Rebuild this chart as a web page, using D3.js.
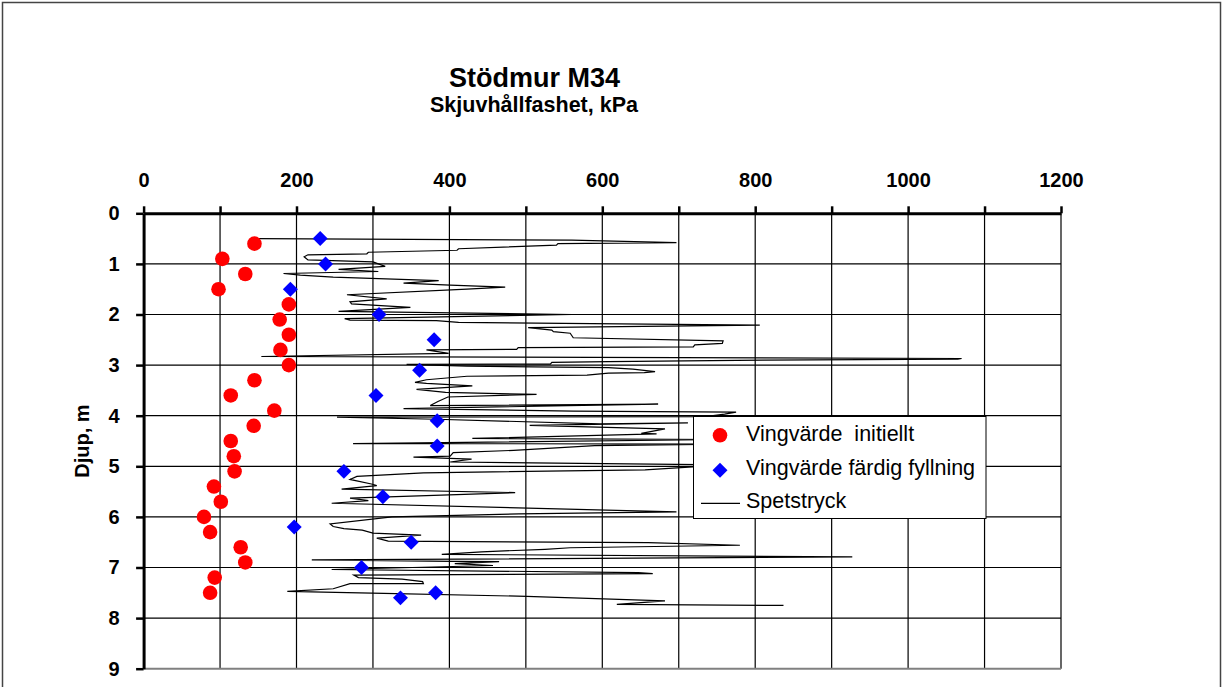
<!DOCTYPE html>
<html>
<head>
<meta charset="utf-8">
<script src="https://cdn.jsdelivr.net/npm/d3@7"></script>
<style>
  body { margin: 0; background: #fff; }
  svg { display: block; font-family: "Liberation Sans", Arial, sans-serif; }
</style>
</head>
<body>
<script>
// axis ticks
var kpaTicks = [0, 100, 200, 300, 400, 500, 600, 700, 800, 900, 1000, 1100, 1200];
var depthTicks = [0, 1, 2, 3, 4, 5, 6, 7, 8, 9];

// Vingvärde initiellt (red circles)
var initDepth = [0.6, 0.9, 1.2, 1.5, 1.8, 2.1, 2.4, 2.7, 3.0, 3.3, 3.6, 3.9,
  4.2, 4.5, 4.8, 5.1, 5.4, 5.7, 6.0, 6.3, 6.6, 6.9, 7.2, 7.5];
var initKpa = [145, 103, 133, 98, 190, 178, 190, 179, 190, 145, 114, 171,
  144, 114, 118, 119, 92, 101, 79, 87, 127, 133, 93, 87];

// Vingvärde färdig fyllning (blue diamonds)
var fyllDepth = [0.5, 1.0, 1.5, 2.0, 2.5, 3.1, 3.6, 4.1, 4.6, 5.1, 5.6, 6.2, 6.5, 7.0, 7.5, 7.6];
var fyllKpa = [231, 238, 192, 308, 380, 361, 304, 384, 384, 262, 313, 197, 350, 285, 382, 336];

// Spetstryck (line)
var spetsDepth = [0.50, 0.53, 0.58, 0.60, 0.63, 0.70, 0.73, 0.77, 0.80, 0.82, 0.86, 0.92,
  0.96, 1.05, 1.11, 1.15, 1.19, 1.22, 1.26, 1.33, 1.38, 1.42, 1.46, 1.50,
  1.61, 1.69, 1.75, 1.79, 1.86, 1.94, 2.00, 2.08, 2.11, 2.12, 2.155, 2.21,
  2.26, 2.31, 2.34, 2.37, 2.46, 2.52, 2.57, 2.60, 2.64, 2.655, 2.69, 2.70,
  2.77, 2.83, 2.87, 2.88, 2.90, 2.93, 2.945, 2.98, 2.985, 3.02, 3.05, 3.08,
  3.13, 3.15, 3.16, 3.20, 3.22, 3.29, 3.34, 3.36, 3.41, 3.48, 3.54, 3.58,
  3.63, 3.72, 3.80, 3.77, 3.86, 3.91, 3.93, 3.97, 4.02, 4.03, 4.07, 4.16,
  4.14, 4.19, 4.26, 4.35, 4.36, 4.45, 4.47, 4.55, 4.56, 4.59, 4.685, 4.73,
  4.80, 4.82, 4.86, 4.915, 4.97, 5.07, 5.13, 5.20, 5.26, 5.35, 5.38, 5.45,
  5.52, 5.63, 5.68, 5.73, 5.90, 5.94, 6.00, 6.14, 6.19, 6.23, 6.26, 6.32,
  6.36, 6.42, 6.48, 6.51, 6.56, 6.61, 6.64, 6.69, 6.74, 6.79, 6.85, 6.88,
  6.885, 6.925, 6.96, 7.04, 7.10, 7.12, 7.15, 7.20, 7.23, 7.28, 7.32, 7.32,
  7.42, 7.47, 7.51, 7.57, 7.66, 7.73, 7.75];
var spetsKpa = [150, 560, 697, 542, 540, 412, 410, 294, 292, 215, 210, 215,
  300, 316, 255, 307, 183, 205, 248, 386, 340, 401, 473, 423,
  266, 318, 270, 272, 349, 255, 560, 263, 270, 383, 412, 806,
  503, 534, 536, 558, 562, 758, 757, 721, 719, 490, 488, 370,
  399, 154, 1070, 1065, 810, 608, 534, 532, 344, 423, 608, 640,
  669, 655, 608, 580, 423, 370, 355, 370, 430, 357, 395, 514,
  398, 385, 375, 673, 340, 562, 775, 760, 735, 253, 383, 597,
  712, 505, 682, 651, 671, 430, 760, 274, 760, 590, 484, 405,
  401, 353, 429, 401, 760, 656, 366, 279, 270, 298, 305, 259,
  486, 270, 294, 246, 697, 491, 325, 244, 248, 262, 286, 300,
  363, 305, 320, 660, 780, 558, 525, 442, 390, 927, 220, 405,
  465, 407, 457, 246, 647, 666, 275, 281, 338, 365, 366, 270,
  248, 188, 314, 501, 682, 619, 837];

var legendLabels = ['Vingvärde  initiellt', 'Vingvärde färdig fyllning', 'Spetstryck'];

function drawChart() {
  var width = 1223;
  var height = 687;
  var svg = d3.select('body').append('svg')
    .attr('width', width)
    .attr('height', height);

  // outer chart frame
  svg.append('rect')
    .attr('x', 2.5).attr('y', 2.5)
    .attr('width', 1218).attr('height', 720)
    .attr('fill', '#fff')
    .attr('stroke', '#444')
    .attr('stroke-width', 1.5);

  var x = d3.scaleLinear().domain([0, 1200]).range([143.6, 1061]);
  var y = d3.scaleLinear().domain([0, 9]).range([213.3, 668.7]);

  // title
  svg.append('text')
    .attr('x', 534.5).attr('y', 86.7)
    .attr('text-anchor', 'middle')
    .style('font-size', '27px').style('font-weight', 'bold')
    .text('Stödmur M34');
  svg.append('text')
    .attr('x', 534).attr('y', 111.7)
    .attr('text-anchor', 'middle')
    .style('font-size', '21.5px').style('font-weight', 'bold')
    .text('Skjuvhållfashet, kPa');

  // grid
  var grid = svg.append('g');
  grid.selectAll('.vgrid')
    .data(kpaTicks.slice(1))
    .enter().append('line')
    .attr('x1', function (d) { return x(d); })
    .attr('x2', function (d) { return x(d); })
    .attr('y1', y(0)).attr('y2', y(9))
    .attr('stroke', '#000').attr('stroke-width', 1.2);
  grid.selectAll('.hgrid')
    .data(depthTicks.slice(1))
    .enter().append('line')
    .attr('x1', x(0)).attr('x2', x(1200))
    .attr('y1', function (d) { return y(d); })
    .attr('y2', function (d) { return y(d); })
    .attr('stroke', function (d) { return d === 9 ? '#808080' : '#000'; })
    .attr('stroke-width', function (d) { return d === 9 ? 2 : 1.2; });

  // Spetstryck line
  var pts = spetsDepth.map(function (d, i) { return [spetsKpa[i], d]; });
  var line = d3.line()
    .x(function (d) { return x(d[0]); })
    .y(function (d) { return y(d[1]); });
  svg.append('path')
    .datum(pts)
    .attr('d', line)
    .attr('fill', 'none')
    .attr('stroke', '#000')
    .attr('stroke-width', 1.2);

  // axes
  var xAxis = svg.append('g')
    .attr('transform', 'translate(0,' + y(0) + ')')
    .call(d3.axisTop(x)
      .tickValues(kpaTicks)
      .tickSizeInner(7).tickSizeOuter(0)
      .tickPadding(19.6)
      .tickFormat(function (d) { return d % 200 === 0 ? d : ''; }));
  var yAxis = svg.append('g')
    .attr('transform', 'translate(' + x(0) + ',0)')
    .call(d3.axisLeft(y)
      .tickValues(depthTicks)
      .tickSizeInner(7.5).tickSizeOuter(0)
      .tickPadding(16.5));
  [xAxis, yAxis].forEach(function (a) {
    a.select('.domain').attr('stroke', '#000').attr('stroke-width', 3);
    a.selectAll('.tick line').attr('stroke', '#000').attr('stroke-width', 2.5);
    a.selectAll('.tick text')
      .attr('fill', '#000')
      .style('font-family', '"Liberation Sans", Arial, sans-serif')
      .style('font-size', '20px').style('font-weight', 'bold');
  });

  svg.append('text')
    .attr('transform', 'translate(89,441) rotate(-90)')
    .attr('text-anchor', 'middle')
    .style('font-size', '20px').style('font-weight', 'bold')
    .text('Djup, m');

  // markers
  svg.append('g').selectAll('circle')
    .data(initDepth)
    .enter().append('circle')
    .attr('cx', function (d, i) { return x(initKpa[i]); })
    .attr('cy', function (d) { return y(d); })
    .attr('r', 7.3)
    .attr('fill', '#ff0000');

  var diamond = d3.symbol().type(d3.symbolSquare).size(112);
  svg.append('g').selectAll('path')
    .data(fyllDepth)
    .enter().append('path')
    .attr('d', diamond)
    .attr('transform', function (d, i) {
      return 'translate(' + x(fyllKpa[i]) + ',' + y(d) + ') rotate(45)';
    })
    .attr('fill', '#0000ff');

  // legend
  var lg = svg.append('g');
  lg.append('rect')
    .attr('x', 693.5).attr('y', 416.5)
    .attr('width', 292.5).attr('height', 102)
    .attr('fill', '#fff').attr('stroke', '#000').attr('stroke-width', 1);
  var rowY = [435.3, 470.3, 503.3];
  lg.append('circle').attr('cx', 720).attr('cy', rowY[0]).attr('r', 7.3).attr('fill', '#ff0000');
  lg.append('path').attr('d', diamond)
    .attr('transform', 'translate(720,' + rowY[1] + ') rotate(45)')
    .attr('fill', '#0000ff');
  lg.append('line')
    .attr('x1', 701).attr('x2', 740)
    .attr('y1', rowY[2]).attr('y2', rowY[2])
    .attr('stroke', '#000').attr('stroke-width', 1.2);
  lg.selectAll('text')
    .data(legendLabels)
    .enter().append('text')
    .attr('x', 746)
    .attr('y', function (d, i) { return [441.3, 475.3, 508][i]; })
    .style('font-size', '21.5px')
    .style('white-space', 'pre')
    .text(function (d) { return d; });
}

drawChart();
</script>
</body>
</html>
